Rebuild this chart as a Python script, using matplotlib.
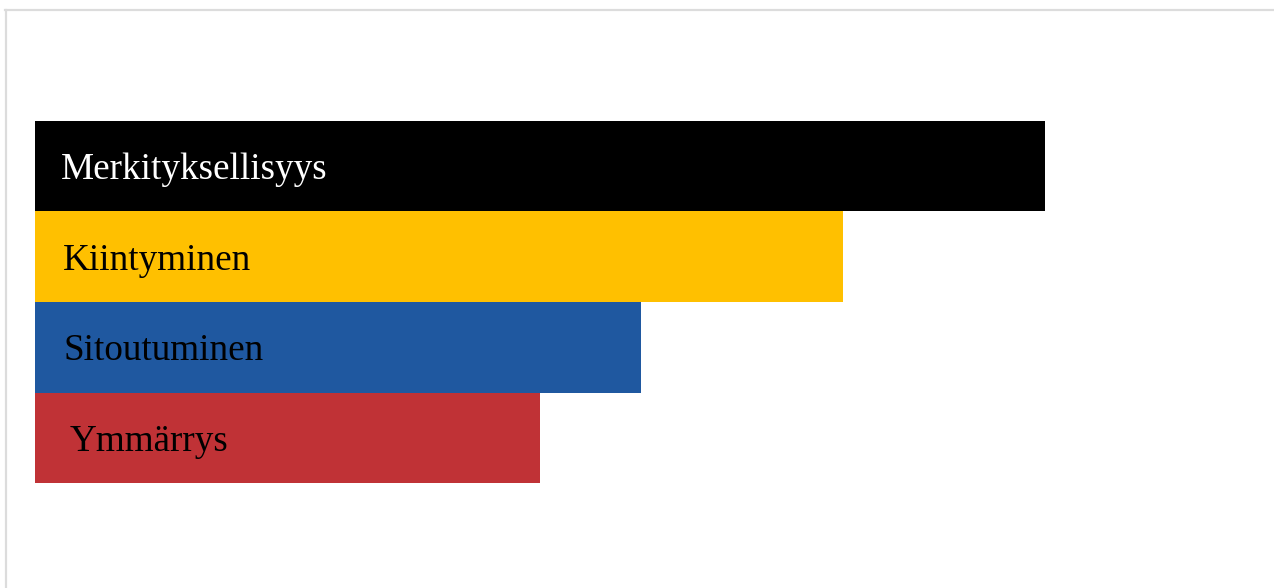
import matplotlib.pyplot as plt
from matplotlib.lines import Line2D

# bar data
labels = ['Merkityksellisyys', 'Kiintyminen', 'Sitoutuminen', 'Ymmärrys']
values = [100, 80, 60, 50]
colors = ['#000000', '#FFC000', '#1F58A0', '#C03236']
text_colors = ['white', 'black', 'black', 'black']
label_pad_px = [26, 28, 28, 35]

W, H, DPI = 1274, 588, 100
fig = plt.figure(figsize=(W / DPI, H / DPI), dpi=DPI)
fig.patch.set_facecolor('white')

# frame line on top and left edges
fig.add_artist(Line2D([5 / W, 1273 / W], [1 - 9.5 / H, 1 - 9.5 / H],
                      transform=fig.transFigure, color='#dcdcdc', lw=1.6))
fig.add_artist(Line2D([6 / W, 6 / W], [0, 1 - 9.5 / H],
                      transform=fig.transFigure, color='#dcdcdc', lw=1.6))

# axes spans x 35..1045 px, y 121..483 px
ax = fig.add_axes([35 / W, (H - 483) / H, 1010 / W, 362 / H])
y = list(range(len(labels)))
ax.barh(y, values, height=1.0, color=colors)
ax.set_xlim(0, 100)
ax.set_ylim(len(labels) - 0.5, -0.5)
ax.axis('off')

px = 100 / 1010
for i, lab in enumerate(labels):
    ax.text(label_pad_px[i] * px, y[i] + 0.04, lab, va='center', ha='left',
            color=text_colors[i], fontsize=26.7, family='Liberation Serif')

fig.savefig('out.png', dpi=DPI)
